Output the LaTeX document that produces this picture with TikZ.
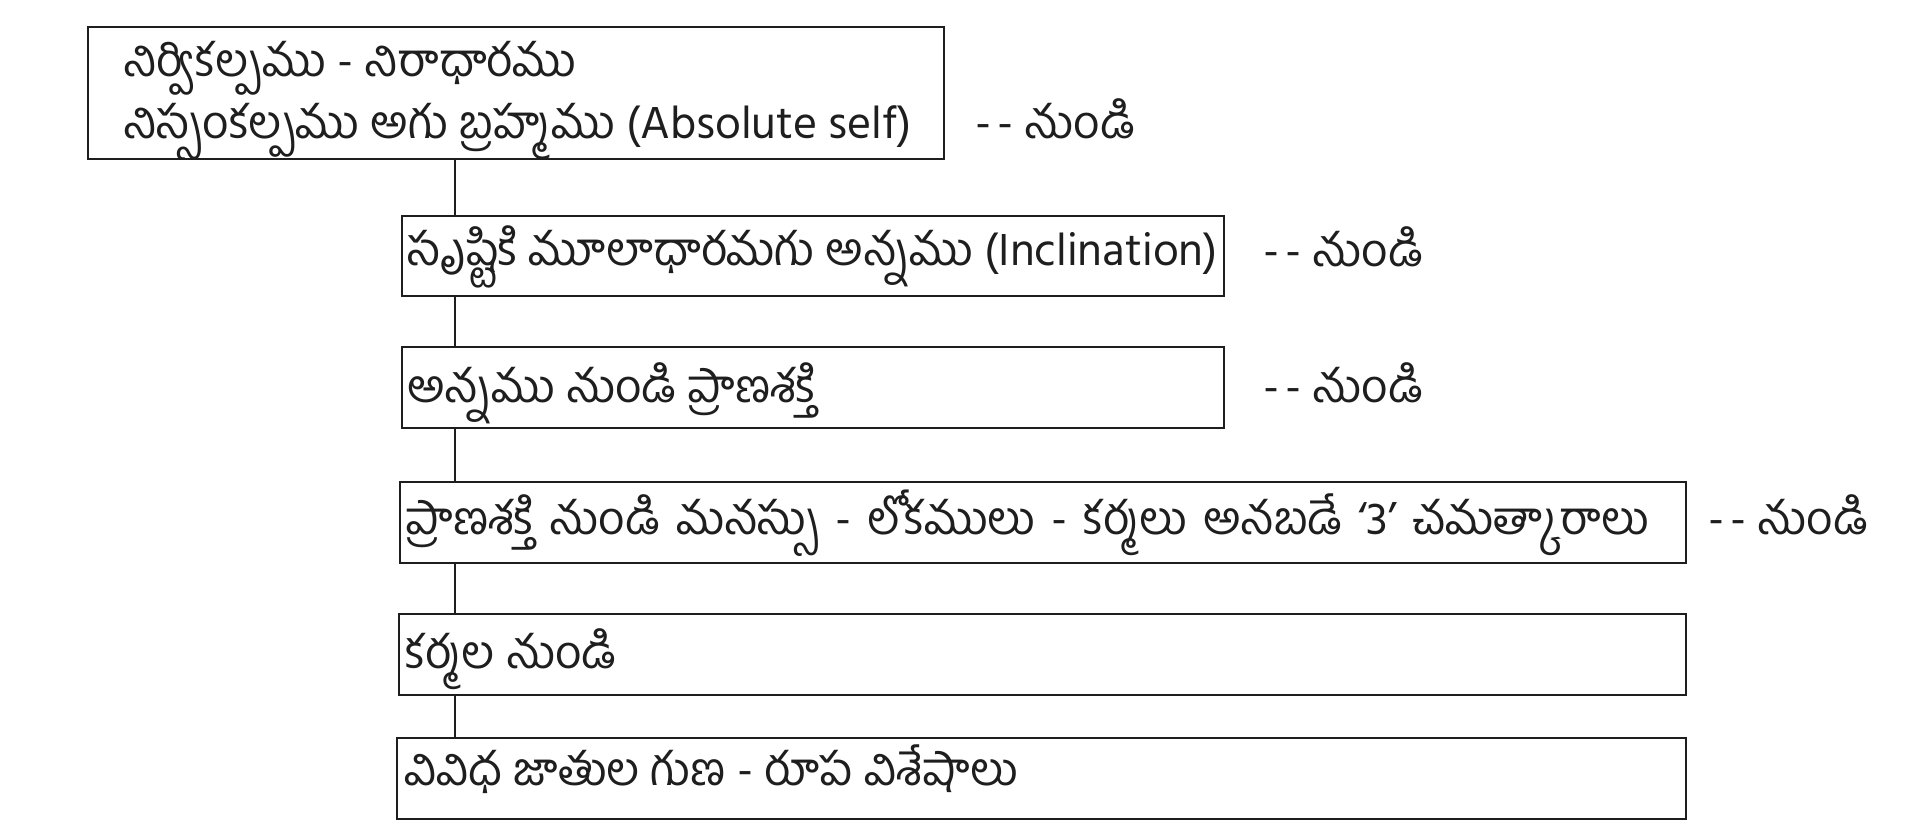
\documentclass[tikz,border=0pt]{standalone}
\usepackage{fontspec}
\newfontfamily\telugu[Script=Telugu]{Hind Guntur}
\definecolor{ink}{HTML}{1E1E1E}
\newcommand{\widespaces}{\spaceskip=8pt plus 2pt\relax}
\begin{document}
\begin{tikzpicture}[x=0.5pt,y=-0.5pt,
  box/.style={draw=ink, line width=1.3pt, rectangle, inner sep=0pt},
  lbl/.style={font=\telugu\fontsize{23}{27}\selectfont, inner sep=0pt, anchor=base west, text=ink},
  link/.style={draw=ink, line width=1.1pt}]
\useasboundingbox (0,0) rectangle (1923,839);
\fill[white] (0,0) rectangle (1923,839);
% boxes
\node[box, minimum width=428pt, minimum height=66pt] (b1) at (516,93) {};
\node[box, minimum width=411pt, minimum height=40pt] (b2) at (813,256) {};
\node[box, minimum width=411pt, minimum height=40.5pt] (b3) at (813,387.5) {};
\node[box, minimum width=643pt, minimum height=40.5pt] (b4) at (1043,522.5) {};
\node[box, minimum width=643.5pt, minimum height=40.5pt] (b5) at (1042.5,654.5) {};
\node[box, minimum width=644.5pt, minimum height=40.5pt] (b6) at (1041.5,778.5) {};
% texts
\node[lbl] (t1a) at (123,77) {నిర్వికల్పము - నిరాధారము};
\node[lbl] (t1b) at (123,139) {నిస్సంకల్పము అగు బ్రహ్మము (Absolute self)};
\node[lbl] (t2) at (407,266) {సృష్టికి మూలాధారమగు అన్నము (Inclination)};
\node[lbl] (t3) at (407,403) {అన్నము నుండి ప్రాణశక్తి};
\node[lbl] (t4) at (405,535) {\widespaces ప్రాణశక్తి నుండి మనస్సు - లోకములు - కర్మలు అనబడే ‘3’ చమత్కారాలు};
\node[lbl] (t5) at (405,668) {కర్మల నుండి};
\node[lbl] (t6) at (404,785) {వివిధ జాతుల గుణ - రూప విశేషాలు};
% side labels
\node[lbl] (d1) at (975,139) {-\kern3pt- నుండి};
\node[lbl] (d2) at (1263,267) {-\kern3pt- నుండి};
\node[lbl] (d3) at (1263,403) {-\kern3pt- నుండి};
\node[lbl] (d4) at (1708,535) {-\kern3pt- నుండి};
% connectors
\coordinate (cx) at (455,0);
\draw[link] (b1.south -| cx) -- (b2.north -| cx);
\draw[link] (b2.south -| cx) -- (b3.north -| cx);
\draw[link] (b3.south -| cx) -- (b4.north -| cx);
\draw[link] (b4.south -| cx) -- (b5.north -| cx);
\draw[link] (b5.south -| cx) -- (b6.north -| cx);
\end{tikzpicture}
\end{document}
